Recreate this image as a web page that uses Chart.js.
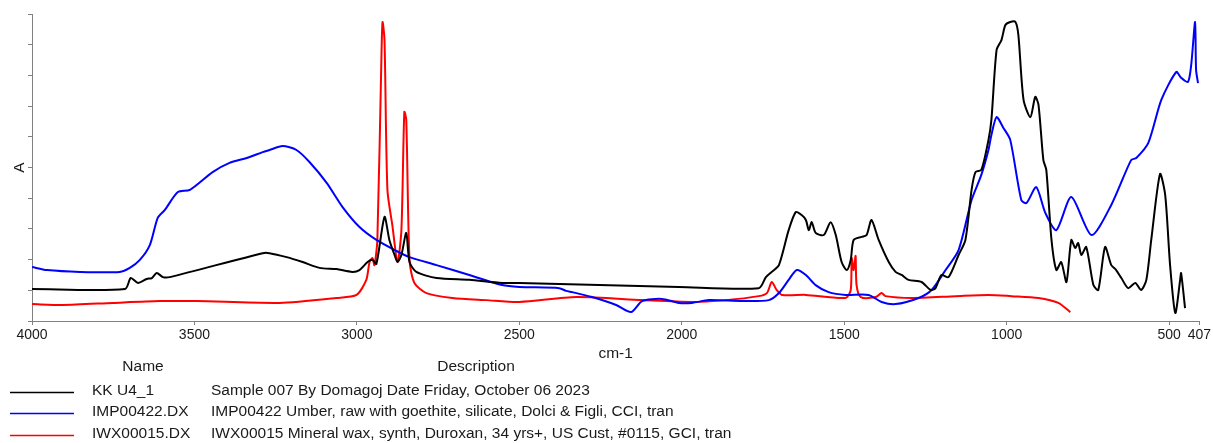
<!DOCTYPE html>
<html>
<head>
<meta charset="utf-8">
<title>IR spectra</title>
<script src="https://cdn.jsdelivr.net/npm/chart.js@4/dist/chart.umd.min.js"></script>
<style>
    html, body { margin: 0; padding: 0; background: #fff; }
    #chartContainer { display: block; }
</style>
</head>
<body>
<canvas id="chartContainer" width="1213" height="443"></canvas>
<script>
// Wavenumber ticks on the (reversed) x axis
const xTicks = [4000, 3500, 3000, 2500, 2000, 1500, 1000, 500, 407];

// Legend rows
const names = ['KK U4_1', 'IMP00422.DX', 'IWX00015.DX'];
const descriptions = [
    'Sample 007 By Domagoj Date Friday, October 06 2023',
    'IMP00422 Umber, raw with goethite, silicate, Dolci & Figli, CCI, tran',
    'IWX00015 Mineral wax, synth, Duroxan, 34 yrs+, US Cust, #0115, GCI, tran'
];
const colors = ['#000000', '#0000ff', '#ff0000'];

// KK U4_1 (black)
const blackWn = [4000, 3714, 3696, 3674, 3647, 3631, 3616, 3597, 3576, 3290, 3269, 3216, 3167, 3115, 3063, 3014, 2992, 2967, 2952, 2940,
    2915, 2900, 2884, 2875, 2863, 2848, 2838, 2817, 2755, 2654, 2553, 2500, 2254, 2009, 1763, 1741, 1723, 1701, 1671, 1649,
    1631, 1618, 1609, 1600, 1588, 1563, 1542, 1526, 1508, 1492, 1480, 1471, 1446, 1431, 1416, 1394, 1363, 1342, 1323, 1302,
    1262, 1234, 1219, 1201, 1179, 1148, 1127, 1108, 1096, 1078, 1056, 1047, 1031, 1016, 1004, 989, 973, 964, 948, 927,
    912, 902, 887, 878, 862, 847, 832, 816, 801, 789, 780, 770, 755, 733, 718, 697, 678, 663, 647, 626,
    604, 586, 570, 555, 528, 512, 497, 481, 466, 463, 451];
const blackA = [0.104, 0.104, 0.140, 0.124, 0.137, 0.140, 0.156, 0.143, 0.143, 0.221, 0.221, 0.208, 0.192, 0.173, 0.169, 0.160, 0.166, 0.192, 0.199, 0.186,
    0.339, 0.264, 0.215, 0.192, 0.215, 0.287, 0.192, 0.160, 0.140, 0.134, 0.124, 0.124, 0.117, 0.111, 0.107, 0.143, 0.160, 0.182, 0.296, 0.355,
    0.345, 0.329, 0.296, 0.322, 0.287, 0.280, 0.322, 0.280, 0.192, 0.166, 0.199, 0.264, 0.274, 0.280, 0.329, 0.264, 0.192, 0.160, 0.150, 0.134,
    0.127, 0.101, 0.107, 0.150, 0.143, 0.215, 0.264, 0.427, 0.485, 0.492, 0.590, 0.655, 0.883, 0.915, 0.964, 0.974, 0.974, 0.932, 0.720, 0.664,
    0.730, 0.704, 0.524, 0.492, 0.264, 0.166, 0.192, 0.127, 0.264, 0.238, 0.254, 0.215, 0.241, 0.117, 0.101, 0.241, 0.182, 0.166, 0.140, 0.107,
    0.124, 0.101, 0.134, 0.264, 0.479, 0.410, 0.182, 0.026, 0.134, 0.156, 0.042];

// IMP00422.DX (blue)
const blueWn = [4000, 3954, 3852, 3730, 3699, 3668, 3637, 3613, 3591, 3551, 3514, 3444, 3392, 3339, 3290, 3269, 3229, 3186, 3146, 3093,
    3044, 2992, 2940, 2878, 2838, 2755, 2654, 2553, 2500, 2377, 2356, 2337, 2276, 2202, 2156, 2122, 2061, 2009, 1969, 1917,
    1815, 1732, 1701, 1671, 1646, 1618, 1588, 1548, 1496, 1425, 1385, 1342, 1271, 1231, 1188, 1148, 1108, 1078, 1056, 1047,
    1031, 1010, 989, 955, 939, 909, 881, 847, 801, 739, 678, 617, 601, 564, 524, 478, 463, 442, 432, 420, 417, 411];
const blueA = [0.176, 0.166, 0.160, 0.160, 0.173, 0.199, 0.248, 0.336, 0.362, 0.420, 0.427, 0.485, 0.515, 0.531, 0.550, 0.557, 0.570, 0.557, 0.518, 0.450,
    0.371, 0.306, 0.264, 0.228, 0.208, 0.182, 0.150, 0.117, 0.111, 0.107, 0.098, 0.094, 0.078, 0.052, 0.029, 0.065, 0.072, 0.059, 0.059, 0.068,
    0.065, 0.068, 0.091, 0.134, 0.166, 0.150, 0.117, 0.094, 0.085, 0.085, 0.062, 0.055, 0.075, 0.101, 0.166, 0.231, 0.394, 0.476, 0.557, 0.606,
    0.664, 0.629, 0.590, 0.394, 0.384, 0.436, 0.352, 0.296, 0.404, 0.280, 0.378, 0.524, 0.531, 0.580, 0.720, 0.811, 0.792, 0.779, 0.834, 0.974, 0.818, 0.775];

// IWX00015.DX (red)
const redWn = [4000, 3905, 3751, 3607, 3493, 3238, 3063, 3001, 2971, 2961, 2952, 2946, 2937, 2924, 2921, 2915, 2906, 2891, 2875, 2863,
    2854, 2848, 2838, 2823, 2786, 2706, 2602, 2500, 2325, 2122, 1969, 1864, 1763, 1738, 1723, 1708, 1692, 1618, 1496, 1480,
    1477, 1471, 1465, 1462, 1449, 1403, 1385, 1373, 1293, 1157, 1056, 985, 902, 841, 804];
const redA = [0.055, 0.052, 0.059, 0.065, 0.065, 0.059, 0.075, 0.085, 0.134, 0.192, 0.205, 0.182, 0.264, 0.883, 0.974, 0.915, 0.427, 0.313, 0.192, 0.296,
    0.681, 0.655, 0.199, 0.124, 0.091, 0.075, 0.068, 0.062, 0.078, 0.068, 0.062, 0.068, 0.081, 0.091, 0.127, 0.101, 0.085, 0.085, 0.075, 0.101,
    0.205, 0.166, 0.212, 0.117, 0.078, 0.078, 0.091, 0.081, 0.075, 0.081, 0.085, 0.081, 0.075, 0.059, 0.029];

const FONT = '"Liberation Sans", Arial, sans-serif';
const AXIS_GREY = '#808080';

function toPoints(wn, a) {
    return wn.map((w, i) => ({ x: w, y: a[i] }));
}

// Draws the Name / Description table under the plot
const legendTable = {
    id: 'legendTable',
    afterDraw(chart) {
        const ctx = chart.ctx;
        const rowY = [391, 412, 434];
        ctx.save();
        // coloured sample lines
        names.forEach((name, i) => {
            ctx.beginPath();
            ctx.strokeStyle = chart.data.datasets[i].borderColor;
            ctx.lineWidth = 1.5;
            ctx.moveTo(10, rowY[i] + 1.5);
            ctx.lineTo(74, rowY[i] + 1.5);
            ctx.stroke();
        });
        // header and text
        ctx.font = '15.5px ' + FONT;
        ctx.fillStyle = '#1a1a1a';
        ctx.textBaseline = 'middle';
        ctx.textAlign = 'center';
        ctx.fillText('Name', 143, 367);
        ctx.fillText('Description', 476, 367);
        ctx.textAlign = 'left';
        names.forEach((name, i) => {
            ctx.fillText(name, 92, rowY[i]);
            ctx.fillText(descriptions[i], 211, rowY[i]);
        });
        ctx.restore();
    }
};

function renderSpectra() {
    const series = [
        { wn: blackWn, a: blackA },
        { wn: blueWn, a: blueA },
        { wn: redWn, a: redA }
    ];

    const ctx = document.getElementById('chartContainer').getContext('2d');
    new Chart(ctx, {
        type: 'line',
        data: {
            datasets: series.map((s, i) => ({
                label: names[i],
                data: toPoints(s.wn, s.a),
                borderColor: colors[i],
                backgroundColor: 'transparent',
                borderWidth: 2,
                pointRadius: 0,
                tension: 0.25,
                fill: false
            }))
        },
        options: {
            responsive: false,
            animation: false,
            layout: { padding: { top: 14, right: 12, left: 0, bottom: 80 } },
            plugins: {
                legend: { display: false },
                tooltip: { enabled: false }
            },
            scales: {
                x: {
                    type: 'linear',
                    reverse: true,
                    min: 407,
                    max: 4000,
                    afterBuildTicks: axis => {
                        axis.ticks = xTicks.map(v => ({ value: v }));
                    },
                    afterFit: axis => { axis.height = 42; },
                    grid: { drawOnChartArea: false, drawTicks: true, tickLength: 4, color: AXIS_GREY },
                    border: { color: AXIS_GREY, width: 1 },
                    ticks: {
                        autoSkip: false,
                        maxRotation: 0,
                        padding: 2,
                        color: '#1a1a1a',
                        font: { family: FONT, size: 14 },
                        callback: v => String(v)
                    },
                    title: {
                        display: true,
                        text: 'cm-1',
                        color: '#1a1a1a',
                        font: { family: FONT, size: 15.5 },
                        padding: { top: 0, bottom: 0 }
                    }
                },
                y: {
                    min: 0,
                    max: 1,
                    afterFit: axis => { axis.width = 32; },
                    grid: { drawOnChartArea: false, drawTicks: true, tickLength: 4, color: AXIS_GREY },
                    border: { color: AXIS_GREY, width: 1 },
                    ticks: { display: false, stepSize: 0.1 },
                    title: {
                        display: true,
                        text: 'A',
                        color: '#1a1a1a',
                        font: { family: FONT, size: 15.5 },
                        padding: { top: 10, bottom: 0 }
                    }
                }
            }
        },
        plugins: [legendTable]
    });
}

document.addEventListener('DOMContentLoaded', renderSpectra);
</script>
</body>
</html>
